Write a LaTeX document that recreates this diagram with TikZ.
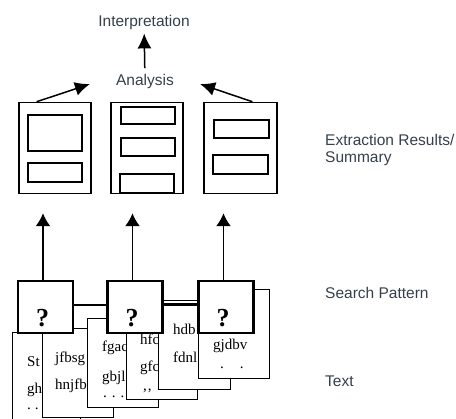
\documentclass[tikz,border=0pt]{standalone}
\usepackage{fontspec}
\setmainfont{Liberation Serif}
\setsansfont{Liberation Sans}
\usepackage{tikz}
\usetikzlibrary{arrows.meta,calc,positioning}
\definecolor{ink}{HTML}{34404C}

\begin{document}
\begin{tikzpicture}[x=1pt,y=-1pt,>={Latex[length=15pt,width=14pt]},
  lbl/.style={font=\sffamily\fontsize{15.5}{16.5}\selectfont,text=ink,inner sep=0pt},
  res/.style={draw,line width=1.5pt,minimum width=72pt,minimum height=91pt,inner sep=0pt},
  qbox/.style={draw,line width=2.8pt,fill=white,minimum width=55pt,minimum height=52pt,inner sep=0pt},
  sheet/.style={draw,line width=1.2pt,fill=white},
  word/.style={anchor=base west,inner sep=0pt,font=\fontsize{15}{17}\selectfont}]
\useasboundingbox (0,0) rectangle (456,419);
\clip (0,0) rectangle (456,419);

% labels
\node[lbl] (interp) at (144,22) {Interpretation};
\node[lbl] (ana) at (145,81.5) {Analysis};
\node[lbl,anchor=base west,align=left] (extr) at (325,162.5) {Extraction Results/\\Summary};
\node[lbl,anchor=base west] (srch) at (325,299) {Search Pattern};
\node[lbl,anchor=base west] (txt) at (325,387) {Text};

% result sheets
\node[res] (res1) at (55,148) {};
\node[res] (res2) at (147,148) {};
\node[res,minimum width=73pt] (res3) at (240.5,148) {};
\draw[line width=1.3pt] (28,115) rectangle (82,151) (28,163) rectangle (82,182);
\draw[line width=1.3pt] (121,107) rectangle (175,124) (121,138) rectangle (175,156)
  (120,174) rectangle (174,193);
\draw[line width=1.3pt] (214,120) rectangle (269,138) (213,155) rectangle (268,174);

\draw[->,line width=1.5pt,shorten <=6pt,shorten >=4pt] (ana) -- (interp);
\draw[->,line width=1.5pt] ($(res1.north west)!0.25!(res1.north east)$) -- ([xshift=-26pt,yshift=-2.5pt]ana.west);
\draw[->,line width=1.5pt] ($(res3.north west)!0.66!(res3.north east)$) -- ([xshift=26pt,yshift=-2.5pt]ana.east);

% text pages, back to front
\node[sheet,anchor=north west,minimum width=68pt,minimum height=93pt] (pg1) at (12,332) {};
\node[word] at (27,367) {St};
\node[word] at (27,394) {gh};
\node[word] at (27,410) {.\hskip4pt.};
\node[sheet,anchor=north west,minimum width=71pt,minimum height=89pt] (pg2) at (42,328) {};
\node[word] at (55,363) {jfbsg};
\node[word] at (55,390) {hnjfb};
\node[sheet,anchor=north west,minimum width=71pt,minimum height=89pt] (pg3) at (87,318) {};
\node[word] at (102,352) {fgac};
\node[word] at (102,382) {gbjl};
\node[word] at (103,398) {.\hskip5pt.\hskip5pt.};
\node[sheet,anchor=north west,minimum width=71pt,minimum height=99pt] (pg4) at (126,300) {};
\node[word] at (140,345) {hfc};
\node[word] at (140,372) {gfc};
\node[word] at (143,391) {,\hskip1pt,};
\node[sheet,anchor=north west,minimum width=72pt,minimum height=84pt] (pg5) at (158,305) {};
\node[word] at (173,335) {hdb};
\node[word] at (173,363) {fdnl};
\node[sheet,anchor=north west,minimum width=71pt,minimum height=89pt] (pg6) at (198,289) {};
\node[word] at (213,350) {gjdbv};
\node[word] at (220,369) {.\hskip16pt.};

% search pattern
\foreach \i/\x in {1/45.5,2/135,3/226}{
  \node[qbox] (q\i) at (\x,307) {};
  \node[font=\bfseries\fontsize{26}{28}\selectfont,inner sep=0pt] at (\x-3,318) {?};
  \path (res\i.south) ++(0,19) coordinate (u\i);
  \draw[->,>={Latex[length=13pt,width=15pt]},line width=1.5pt] ([xshift=-2.5pt]q\i.north) -- ([xshift=-2.5pt]q\i.north |- u\i);
}
\draw[line width=2.6pt] ([yshift=2pt]q1.east) -- ([yshift=2pt]q2.west);
\draw[line width=2.6pt] ([yshift=3pt]q2.east) -- ([yshift=3pt]q3.west);
\end{tikzpicture}
\end{document}
